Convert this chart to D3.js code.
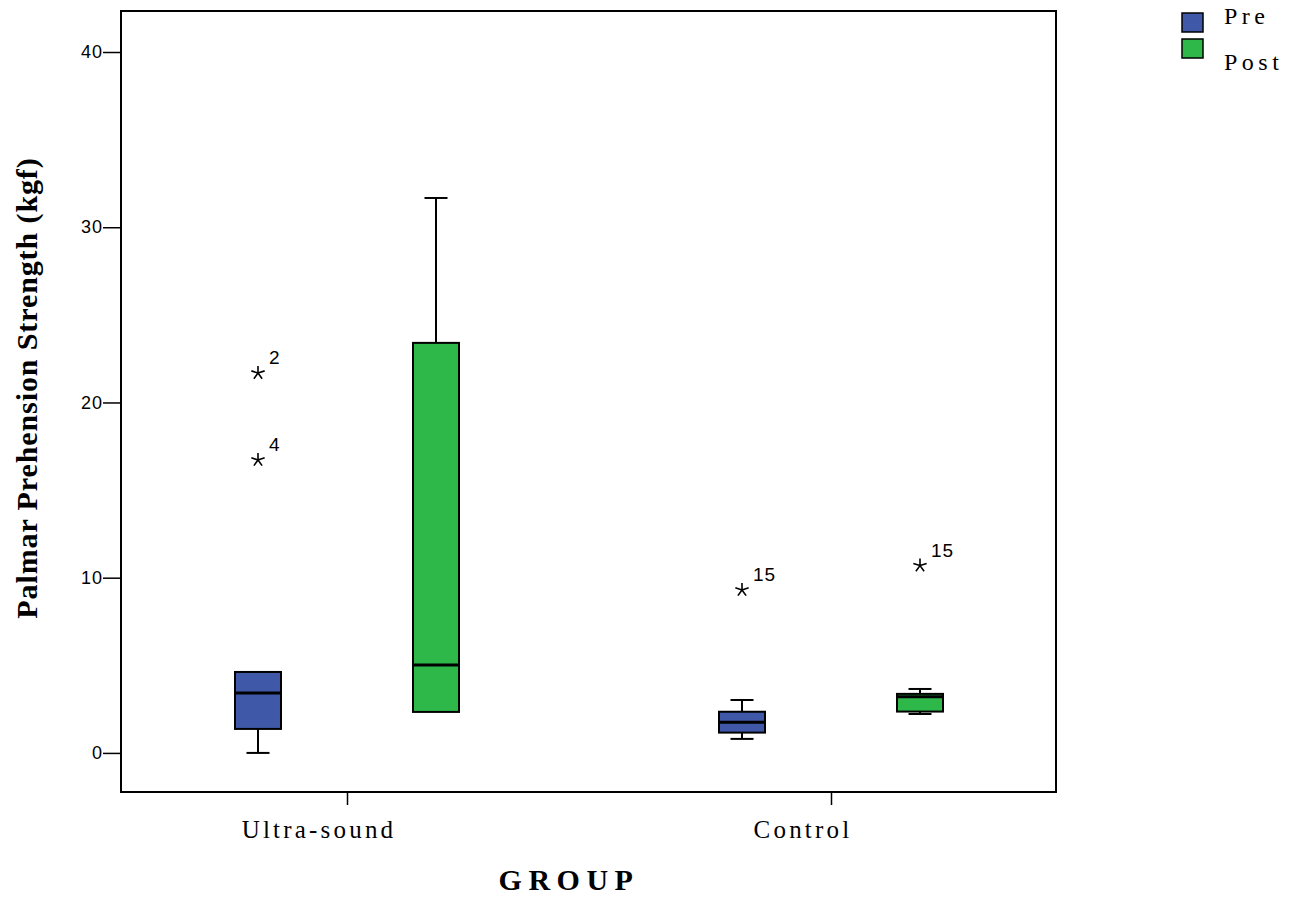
<!DOCTYPE html>
<html>
<head>
<meta charset="utf-8">
<script src="https://cdn.jsdelivr.net/npm/d3@7"></script>
<style>
  body { margin: 0; background: #fff; }
  svg { display: block; }
</style>
</head>
<body>
<svg width="1298" height="899"></svg>
<script>
// groups and phases
var groups = ["Ultra-sound", "Control"];
var phases = ["Pre", "Post"];
var phaseColors = ["#3f58a8", "#2eb84a"];

// one entry per box
var boxGroup = ["Ultra-sound", "Ultra-sound", "Control", "Control"];
var boxPhase = ["Pre", "Post", "Pre", "Post"];
var whiskerLow = [0, 2.34, 0.8, 2.22];
var q1 = [1.37, 2.34, 1.16, 2.36];
var median = [3.42, 5.02, 1.75, 3.21];
var q3 = [4.62, 23.4, 2.35, 3.37];
var whiskerHigh = [4.62, 31.67, 3.02, 3.65];

// extreme values (stars)
var outGroup = ["Ultra-sound", "Ultra-sound", "Control", "Control"];
var outPhase = ["Pre", "Pre", "Pre", "Post"];
var outValue = [21.68, 16.72, 9.3, 10.69];
var outCase = ["2", "4", "15", "15"];

var yTicks = [0, 10, 20, 30, 40];

(function() {
var svg = d3.select("svg");

var pLeft = 121, pRight = 1056, pTop = 11, pBottom = 792;

var y = d3.scaleLinear().domain([-2.23, 42.34]).range([pBottom, pTop]);
var x = d3.scalePoint().domain(groups).range([347, 831]);
var xp = d3.scalePoint().domain(phases).range([-89, 89]);
var color = d3.scaleOrdinal().domain(phases).range(phaseColors);

var boxW = 46;

var boxes = boxGroup.map(function(g, i) {
  return { g: g, p: boxPhase[i], lo: whiskerLow[i], q1: q1[i], med: median[i], q3: q3[i], hi: whiskerHigh[i] };
});
var outs = outGroup.map(function(g, i) {
  return { g: g, p: outPhase[i], v: outValue[i], c: outCase[i] };
});

function cx(d) { return x(d.g) + xp(d.p); }

// frame
svg.append("rect")
   .attr("x", pLeft).attr("y", pTop)
   .attr("width", pRight - pLeft).attr("height", pBottom - pTop)
   .attr("fill", "none").attr("stroke", "#000").attr("stroke-width", 2);

// y axis
var yAxis = svg.append("g")
   .attr("transform", "translate(" + pLeft + ",0)")
   .call(d3.axisLeft(y).tickValues(yTicks).tickSize(18).tickPadding(0));
yAxis.select(".domain").remove();
yAxis.selectAll("line").attr("stroke-width", 1.5);
yAxis.selectAll("text")
   .style("font-family", "Arial, 'Liberation Sans', sans-serif")
   .style("font-size", "18px")
   .style("letter-spacing", "1px")
   .attr("fill", "#000");

// x axis ticks
var xAxis = svg.append("g")
   .attr("transform", "translate(0," + pBottom + ")")
   .call(d3.axisBottom(x).tickSize(13).tickFormat(""));
xAxis.select(".domain").remove();
xAxis.selectAll("line").attr("stroke-width", 1.5);

svg.selectAll(".cat").data(groups).enter().append("text")
   .attr("class", "cat")
   .attr("x", function(d) { return x(d) - 28; })
   .attr("y", 838)
   .attr("text-anchor", "middle")
   .style("font-family", "'Times New Roman', 'Liberation Serif', serif")
   .style("font-size", "25px")
   .style("letter-spacing", "3.2px")
   .text(function(d) { return d; });

// whiskers
var wg = svg.append("g");
boxes.forEach(function(d) {
  var c = cx(d);
  if (d.hi > d.q3) {
    wg.append("line").attr("x1", c).attr("x2", c).attr("y1", y(d.q3)).attr("y2", y(d.hi))
      .attr("stroke", "#000").attr("stroke-width", 2);
    wg.append("line").attr("x1", c - boxW / 4).attr("x2", c + boxW / 4).attr("y1", y(d.hi)).attr("y2", y(d.hi))
      .attr("stroke", "#000").attr("stroke-width", 2);
  }
  if (d.lo < d.q1) {
    wg.append("line").attr("x1", c).attr("x2", c).attr("y1", y(d.q1)).attr("y2", y(d.lo))
      .attr("stroke", "#000").attr("stroke-width", 2);
    wg.append("line").attr("x1", c - boxW / 4).attr("x2", c + boxW / 4).attr("y1", y(d.lo)).attr("y2", y(d.lo))
      .attr("stroke", "#000").attr("stroke-width", 2);
  }
});

// boxes
svg.selectAll(".box").data(boxes).enter().append("rect")
   .attr("class", "box")
   .attr("x", function(d) { return cx(d) - boxW / 2; })
   .attr("y", function(d) { return y(d.q3); })
   .attr("width", boxW)
   .attr("height", function(d) { return y(d.q1) - y(d.q3); })
   .attr("fill", function(d) { return color(d.p); })
   .attr("stroke", "#000").attr("stroke-width", 2);

svg.selectAll(".med").data(boxes).enter().append("line")
   .attr("class", "med")
   .attr("x1", function(d) { return cx(d) - boxW / 2 - 1; })
   .attr("x2", function(d) { return cx(d) + boxW / 2 + 1; })
   .attr("y1", function(d) { return y(d.med); })
   .attr("y2", function(d) { return y(d.med); })
   .attr("stroke", "#000").attr("stroke-width", 3);

// stars for extremes
function starPath(r) {
  var p = "";
  for (var k = 0; k < 5; k++) {
    var a = -Math.PI / 2 + k * 2 * Math.PI / 5;
    p += "M0,0L" + (r * Math.cos(a)).toFixed(2) + "," + (r * Math.sin(a)).toFixed(2);
  }
  return p;
}
svg.selectAll(".star").data(outs).enter().append("path")
   .attr("class", "star")
   .attr("transform", function(d) { return "translate(" + cx(d) + "," + y(d.v) + ")"; })
   .attr("d", starPath(7))
   .attr("fill", "none").attr("stroke", "#000").attr("stroke-width", 1.6);

svg.selectAll(".case").data(outs).enter().append("text")
   .attr("class", "case")
   .attr("x", function(d) { return cx(d) + 11; })
   .attr("y", function(d) { return y(d.v) - 9; })
   .style("font-family", "Arial, 'Liberation Sans', sans-serif")
   .style("font-size", "19px")
   .style("letter-spacing", "1px")
   .text(function(d) { return d.c; });

// axis titles
svg.append("text")
   .attr("transform", "translate(37,388) rotate(-90)")
   .attr("text-anchor", "middle")
   .style("font-family", "'Times New Roman', 'Liberation Serif', serif")
   .style("font-weight", "bold")
   .style("font-size", "30px")
   .style("letter-spacing", "0.9px")
   .text("Palmar Prehension Strength (kgf)");

svg.append("text")
   .attr("x", 569).attr("y", 890)
   .attr("text-anchor", "middle")
   .style("font-family", "'Times New Roman', 'Liberation Serif', serif")
   .style("font-weight", "bold")
   .style("font-size", "30px")
   .style("letter-spacing", "6.5px")
   .text("GROUP");

// legend
var legY = [13, 39];
var legTextY = [24, 70];
var leg = svg.selectAll(".leg").data(phases).enter().append("g").attr("class", "leg");
leg.append("rect")
   .attr("x", 1182)
   .attr("y", function(d, i) { return legY[i]; })
   .attr("width", 21).attr("height", 19)
   .attr("fill", function(d) { return color(d); })
   .attr("stroke", "#000").attr("stroke-width", 1.5);
leg.append("text")
   .attr("x", 1224)
   .attr("y", function(d, i) { return legTextY[i]; })
   .style("font-family", "'Times New Roman', 'Liberation Serif', serif")
   .style("font-size", "24px")
   .style("letter-spacing", "4.5px")
   .text(function(d) { return d; });
})();
</script>
</body>
</html>
